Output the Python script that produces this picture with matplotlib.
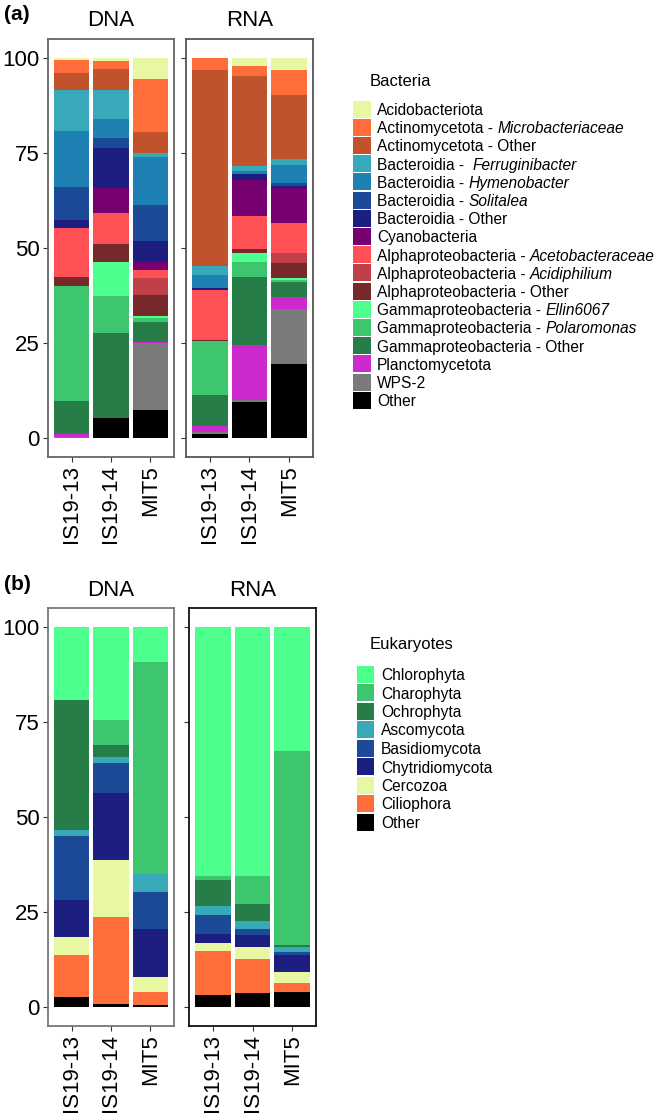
import matplotlib
matplotlib.use("Agg")
import matplotlib.pyplot as plt
from matplotlib.patches import Rectangle
import numpy as np

plt.rcParams["font.family"] = ["Liberation Sans", "DejaVu Sans"]

samples = ["IS19-13", "IS19-14", "MIT5"]

# ---- bacteria (legend order = top of stack first) ----
# each label: (plain part, italic part, spaces between)
bact_labels = [
    ("Acidobacteriota", "", 0),
    ("Actinomycetota -", "Microbacteriaceae", 1),
    ("Actinomycetota - Other", "", 0),
    ("Bacteroidia -", "Ferruginibacter", 2),
    ("Bacteroidia -", "Hymenobacter", 1),
    ("Bacteroidia -", "Solitalea", 1),
    ("Bacteroidia - Other", "", 0),
    ("Cyanobacteria", "", 0),
    ("Alphaproteobacteria -", "Acetobacteraceae", 1),
    ("Alphaproteobacteria -", "Acidiphilium", 1),
    ("Alphaproteobacteria - Other", "", 0),
    ("Gammaproteobacteria -", "Ellin6067", 1),
    ("Gammaproteobacteria -", "Polaromonas", 1),
    ("Gammaproteobacteria - Other", "", 0),
    ("Planctomycetota", "", 0),
    ("WPS-2", "", 0),
    ("Other", "", 0),
]
bact_colors = ["#E8F7A1", "#FF6D3A", "#C0532B", "#37A9B8", "#1F80B4", "#1C4A96",
               "#1C1F80", "#76006F", "#FF5055", "#C0404A", "#77282B", "#4DFF8C",
               "#3DC66E", "#267D48", "#CC2ACE", "#7A7A7A", "#000000"]

# values per sample (IS19-13, IS19-14, MIT5), same order as bact_labels
bact_dna = [
    [0.4, 0.8, 5.4],
    [3.6, 2.2, 14.2],
    [4.5, 5.5, 5.3],
    [10.8, 7.6, 1.2],
    [14.7, 4.9, 12.6],
    [8.7, 2.6, 9.5],
    [2.1, 10.5, 5.4],
    [0.0, 6.7, 2.3],
    [12.7, 8.2, 1.9],
    [0.0, 0.0, 4.5],
    [2.6, 4.8, 5.5],
    [0.0, 8.9, 0.6],
    [30.1, 9.6, 1.2],
    [8.8, 22.5, 5.1],
    [0.8, 0.0, 0.3],
    [0.2, 0.0, 17.6],
    [0.0, 5.2, 7.4],
]
bact_rna = [
    [0.0, 2.1, 3.2],
    [3.2, 2.6, 6.5],
    [51.5, 23.8, 16.8],
    [2.4, 1.3, 1.6],
    [3.5, 0.6, 4.8],
    [0.0, 0.0, 0.8],
    [0.4, 1.6, 0.5],
    [0.0, 9.5, 9.3],
    [13.3, 8.8, 7.7],
    [0.0, 0.0, 2.8],
    [0.3, 0.9, 3.9],
    [0.0, 2.6, 0.6],
    [14.1, 3.9, 0.5],
    [8.1, 17.7, 4.0],
    [1.7, 14.7, 3.0],
    [0.4, 0.5, 14.5],
    [1.1, 9.4, 19.5],
]

# ---- eukaryotes ----
euk_labels = [("Chlorophyta", "", 0), ("Charophyta", "", 0), ("Ochrophyta", "", 0),
              ("Ascomycota", "", 0), ("Basidiomycota", "", 0), ("Chytridiomycota", "", 0),
              ("Cercozoa", "", 0), ("Ciliophora", "", 0), ("Other", "", 0)]
euk_colors = ["#4DFF8C", "#3DC66E", "#267D48", "#37A9B8", "#1C4A96", "#1C1F80",
              "#E8F7A1", "#FF6D3A", "#000000"]
euk_dna = [
    [19.2, 24.4, 9.1],
    [0.0, 6.6, 55.8],
    [34.3, 3.3, 0.0],
    [1.6, 1.4, 4.8],
    [16.8, 8.1, 9.8],
    [9.6, 17.6, 12.7],
    [4.9, 14.9, 3.9],
    [10.9, 22.9, 3.3],
    [2.7, 0.8, 0.6],
]
euk_rna = [
    [65.6, 65.6, 32.5],
    [0.9, 7.2, 51.2],
    [7.0, 4.6, 0.4],
    [2.4, 2.2, 1.4],
    [4.9, 1.5, 0.9],
    [2.3, 3.2, 4.3],
    [2.2, 3.1, 3.1],
    [11.6, 8.8, 2.2],
    [3.1, 3.8, 4.0],
]

W, H = 661, 1115
fig = plt.figure(figsize=(W / 100, H / 100), dpi=100)


def px_axes(l, r, t, b):
    return fig.add_axes([l / W, 1 - b / H, (r - l) / W, (b - t) / H])


def stacked(ax, values, colors, show_y, frame):
    vals = np.array(values)
    x = np.arange(len(samples))
    bottom = np.zeros(len(samples))
    # stack from bottom (last legend entry) to top (first entry)
    for i in range(len(vals) - 1, -1, -1):
        ax.bar(x, vals[i], bottom=bottom, width=0.9, color=colors[i], linewidth=0)
        bottom += vals[i]
    ax.set_xlim(-0.6, 2.6)
    ax.set_ylim(-5, 105)
    ax.set_yticks([0, 25, 50, 75, 100])
    ax.set_xticks(x)
    ax.set_xticklabels(samples, rotation=90, fontsize=16)
    if not show_y:
        ax.set_yticklabels([])
    else:
        ax.tick_params(axis="y", labelsize=16)
    ax.tick_params(length=3.5, width=0.8, color="#333333", pad=2.5)
    for s in ax.spines.values():
        s.set_color(frame)
        s.set_linewidth(1.3)


# panel (a)
ax1 = px_axes(48, 174, 39, 457)
stacked(ax1, bact_dna, bact_colors, True, "#666666")
ax2 = px_axes(186, 313, 39, 457)
stacked(ax2, bact_rna, bact_colors, False, "#555555")
# panel (b)
ax3 = px_axes(48, 174, 608, 1026)
stacked(ax3, euk_dna, euk_colors, True, "#777777")
ax4 = px_axes(189, 316, 608, 1026)
stacked(ax4, euk_rna, euk_colors, False, "#111111")

for ax, t in [(ax1, "DNA"), (ax2, "RNA"), (ax3, "DNA"), (ax4, "RNA")]:
    ax.set_title(t, fontsize=16, pad=9)

fig.text(4 / W, 1 - 15 / H, "(a)", fontsize=15, fontweight="bold", va="center")
fig.text(4 / W, 1 - 585 / H, "(b)", fontsize=15, fontweight="bold", va="center")

FS = 11.2
SPACE_PT = 0.278 * FS


def legend(title, labels, colors, key_x, text_x, title_y, first_y, step):
    fig.text(370 / W, 1 - title_y / H, title, fontsize=12, va="center")
    for i, ((plain, ital, nsp), col) in enumerate(zip(labels, colors)):
        yc = first_y + i * step
        fig.add_artist(Rectangle((key_x / W, 1 - (yc + 8.5) / H), 17.5 / W, 17 / H,
                                 transform=fig.transFigure, facecolor=col,
                                 edgecolor="none"))
        t = fig.text(text_x / W, 1 - yc / H, plain, fontsize=FS, va="center_baseline")
        if ital:
            # italic genus / family name placed right after the plain part
            ax4.annotate(ital, xy=(1, 0), xycoords=t, xytext=(SPACE_PT * nsp, 0),
                         textcoords="offset points", fontsize=FS, style="italic",
                         ha="left", va="bottom", annotation_clip=False)


legend("Bacteria", bact_labels, bact_colors, 353, 377, 82, 109, 18.2)
legend("Eukaryotes", euk_labels, euk_colors, 357, 381, 645, 674, 18.5)

fig.savefig("out.png", dpi=100)
